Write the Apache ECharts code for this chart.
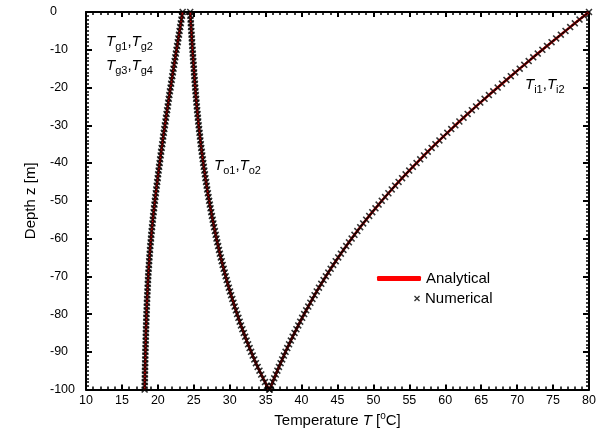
<!DOCTYPE html>
<html>
<head>
<meta charset="utf-8">
<script src="https://cdn.jsdelivr.net/npm/echarts@6/dist/echarts.min.js"></script>
<style>
html,body{margin:0;padding:0;background:#fff;}
#chart{width:613px;height:433px;}
</style>
</head>
<body>
<div id="chart"></div>
<script>
// Depth z [m]
var depth = [0,-1,-2,-3,-4,-5,-6,-7,-8,-9,-10,
  -11,-12,-13,-14,-15,-16,-17,-18,-19,-20,
  -21,-22,-23,-24,-25,-26,-27,-28,-29,-30,
  -31,-32,-33,-34,-35,-36,-37,-38,-39,-40,
  -41,-42,-43,-44,-45,-46,-47,-48,-49,-50,
  -51,-52,-53,-54,-55,-56,-57,-58,-59,-60,
  -61,-62,-63,-64,-65,-66,-67,-68,-69,-70,
  -71,-72,-73,-74,-75,-76,-77,-78,-79,-80,
  -81,-82,-83,-84,-85,-86,-87,-88,-89,-90,
  -91,-92,-93,-94,-95,-96,-97,-98,-99,-100];

// Grout temperatures Tg1..Tg4 [°C]
var tempGrout = [23.45,23.36,23.28,23.19,23.11,23.02,22.94,22.85,22.77,22.68,22.60,
  22.51,22.43,22.34,22.26,22.18,22.09,22.01,21.93,21.85,21.77,
  21.68,21.60,21.52,21.45,21.37,21.29,21.21,21.13,21.06,20.98,
  20.90,20.83,20.75,20.68,20.61,20.53,20.46,20.39,20.32,20.25,
  20.18,20.11,20.04,19.98,19.91,19.84,19.78,19.72,19.65,19.59,
  19.53,19.47,19.41,19.35,19.30,19.25,19.19,19.14,19.09,19.05,
  19.00,18.95,18.91,18.87,18.83,18.79,18.76,18.72,18.69,18.66,
  18.63,18.60,18.58,18.55,18.53,18.50,18.48,18.46,18.44,18.42,
  18.40,18.39,18.37,18.35,18.34,18.32,18.31,18.30,18.28,18.27,
  18.26,18.25,18.24,18.22,18.21,18.20,18.19,18.18,18.17,18.16];

// Outlet pipe temperatures To1, To2 [°C]
var tempOut = [24.50,24.53,24.56,24.59,24.62,24.66,24.69,24.72,24.76,24.79,24.83,
  24.86,24.90,24.93,24.97,25.01,25.04,25.08,25.12,25.16,25.20,
  25.24,25.28,25.33,25.37,25.42,25.47,25.52,25.57,25.62,25.68,
  25.74,25.80,25.86,25.92,25.98,26.04,26.11,26.18,26.25,26.32,
  26.39,26.47,26.55,26.62,26.71,26.79,26.87,26.96,27.05,27.14,
  27.23,27.33,27.43,27.52,27.63,27.73,27.83,27.94,28.05,28.16,
  28.27,28.39,28.51,28.63,28.76,28.89,29.02,29.16,29.30,29.44,
  29.58,29.73,29.88,30.04,30.19,30.36,30.52,30.69,30.86,31.03,
  31.21,31.39,31.57,31.76,31.96,32.15,32.35,32.56,32.77,32.98,
  33.20,33.42,33.65,33.89,34.14,34.39,34.64,34.91,35.18,35.50];

// Inlet pipe temperatures Ti1, Ti2 [°C]
var tempIn = [80.00,79.34,78.68,78.03,77.38,76.73,76.08,75.43,74.79,74.15,73.51,
  72.87,72.24,71.61,70.99,70.36,69.74,69.12,68.51,67.89,67.29,
  66.68,66.07,65.47,64.87,64.28,63.70,63.11,62.54,61.96,61.40,
  60.83,60.28,59.72,59.18,58.63,58.10,57.56,57.04,56.51,56.00,
  55.48,54.98,54.48,53.99,53.50,53.02,52.55,52.08,51.62,51.16,
  50.72,50.28,49.84,49.41,48.99,48.57,48.16,47.76,47.36,46.97,
  46.59,46.21,45.83,45.47,45.10,44.75,44.40,44.05,43.72,43.38,
  43.06,42.74,42.42,42.11,41.81,41.51,41.22,40.93,40.64,40.36,
  40.08,39.81,39.54,39.28,39.02,38.76,38.51,38.26,38.01,37.77,
  37.54,37.30,37.08,36.85,36.63,36.41,36.19,35.98,35.77,35.56];

var seriesNames = ['Analytical', 'Numerical'];

var FONT = "'Liberation Sans', Arial, Helvetica, sans-serif";
var XPATH = 'path://M0,1.6L1.6,0L5,3.4L8.4,0L10,1.6L6.6,5L10,8.4L8.4,10L5,6.6L1.6,10L0,8.4L3.4,5Z';

function pairs(temps) {
  var out = [];
  for (var i = 0; i < depth.length; i++) out.push([temps[i], depth[i]]);
  return out;
}
var curves = [tempGrout, tempOut, tempIn];

var series = [];
curves.forEach(function (c) {
  series.push({
    name: seriesNames[0], type: 'line', data: pairs(c),
    showSymbol: false, symbol: 'none',
    lineStyle: { color: '#ff0000', width: 2.5 },
    itemStyle: { color: '#ff0000' },
    z: 2, silent: true
  });
});
curves.forEach(function (c) {
  series.push({
    name: seriesNames[1], type: 'scatter', data: pairs(c),
    symbol: XPATH, symbolSize: 7,
    itemStyle: { color: '#000' },
    z: 3, silent: true
  });
});

function axisCommon(extra) {
  var base = {
    type: 'value',
    axisLine: { show: true, onZero: false, lineStyle: { color: '#000', width: 2 } },
    axisTick: { show: true, inside: true, length: 5, lineStyle: { color: '#000', width: 2 } },
    minorTick: { show: true, length: 3, lineStyle: { color: '#000', width: 1.5 } },
    splitLine: { show: false },
    minorSplitLine: { show: false },
    axisLabel: { color: '#000', fontSize: 12.5, fontFamily: FONT }
  };
  for (var k in extra) base[k] = extra[k];
  return base;
}

var txt = { t: { fontSize: 15, fontStyle: 'italic', fontFamily: FONT, lineHeight: 22, verticalAlign: 'middle', color: '#1a1a1a' },
            s: { fontSize: 11, fontFamily: FONT, lineHeight: 11, verticalAlign: 'bottom', color: '#1a1a1a' },
            c: { fontSize: 15, fontFamily: FONT, lineHeight: 22, verticalAlign: 'middle', color: '#1a1a1a' } };

function label(a, b, left, top) {
  return { type: 'text', left: left, top: top, z: 10,
    style: { text: '{t|T}{s|' + a + '}{c|,}{t|T}{s|' + b + '}', rich: txt } };
}

var chart = echarts.init(document.getElementById('chart'), null, { renderer: 'canvas' });
chart.setOption({
  animation: false,
  backgroundColor: '#fff',
  textStyle: { fontFamily: FONT },
  grid: { left: 86, right: 24, top: 12, bottom: 39, containLabel: false },
  xAxis: [
    axisCommon({ min: 10, max: 80, interval: 5, position: 'bottom',
      minorTick: { show: true, splitNumber: 5, length: 3, lineStyle: { color: '#000', width: 1.5 } },
      axisLabel: { color: '#000', fontSize: 12.5, fontFamily: FONT, margin: 4 },
      name: '{n|Temperature }{i|T}{n| [}{s|o}{n|C]}',
      nameLocation: 'middle', nameGap: 18,
      nameTextStyle: { rich: {
        n: { fontSize: 15, fontFamily: FONT, color: '#000', lineHeight: 18, verticalAlign: 'middle' },
        i: { fontSize: 15, fontFamily: FONT, fontStyle: 'italic', color: '#000', lineHeight: 18, verticalAlign: 'middle' },
        s: { fontSize: 10, fontFamily: FONT, color: '#000', lineHeight: 10, verticalAlign: 'top' } } } }),
    axisCommon({ min: 10, max: 80, interval: 5, position: 'top',
      minorTick: { show: true, splitNumber: 5, length: 3, lineStyle: { color: '#000', width: 1.5 } },
      axisLabel: { show: false } })
  ],
  yAxis: [
    axisCommon({ min: -100, max: 0, interval: 10, position: 'left',
      axisTick: { show: true, inside: true, length: 6, lineStyle: { color: '#000', width: 2 } },
      minorTick: { show: true, splitNumber: 10, length: 3, lineStyle: { color: '#000', width: 1.5 } },
      axisLabel: { color: '#000', fontSize: 12.5, fontFamily: FONT, align: 'left', margin: 36 },
      name: 'Depth z [m]', nameLocation: 'middle', nameGap: 48,
      nameTextStyle: { fontSize: 15, fontFamily: FONT, color: '#000' } }),
    axisCommon({ min: -100, max: 0, interval: 10, position: 'right',
      axisTick: { show: true, inside: true, length: 6, lineStyle: { color: '#000', width: 2 } },
      minorTick: { show: true, splitNumber: 10, length: 3, lineStyle: { color: '#000', width: 1.5 } },
      axisLabel: { show: false } })
  ],
  legend: [
    { data: [{ name: seriesNames[0], icon: 'roundRect' }], left: 377, top: 271, padding: 0,
      itemWidth: 44, itemHeight: 5, selectedMode: false,
      textStyle: { fontSize: 15, fontFamily: FONT, color: '#000' } },
    { data: [{ name: seriesNames[1], icon: XPATH }], left: 414, top: 291, padding: 0,
      itemWidth: 6, itemHeight: 6, selectedMode: false,
      textStyle: { fontSize: 15, fontFamily: FONT, color: '#000' } }
  ],
  graphic: [
    label('g1', 'g2', 106, 34),
    label('g3', 'g4', 106, 58),
    label('o1', 'o2', 214, 158),
    label('i1', 'i2', 525, 77)
  ],
  series: series
});
</script>
</body>
</html>
